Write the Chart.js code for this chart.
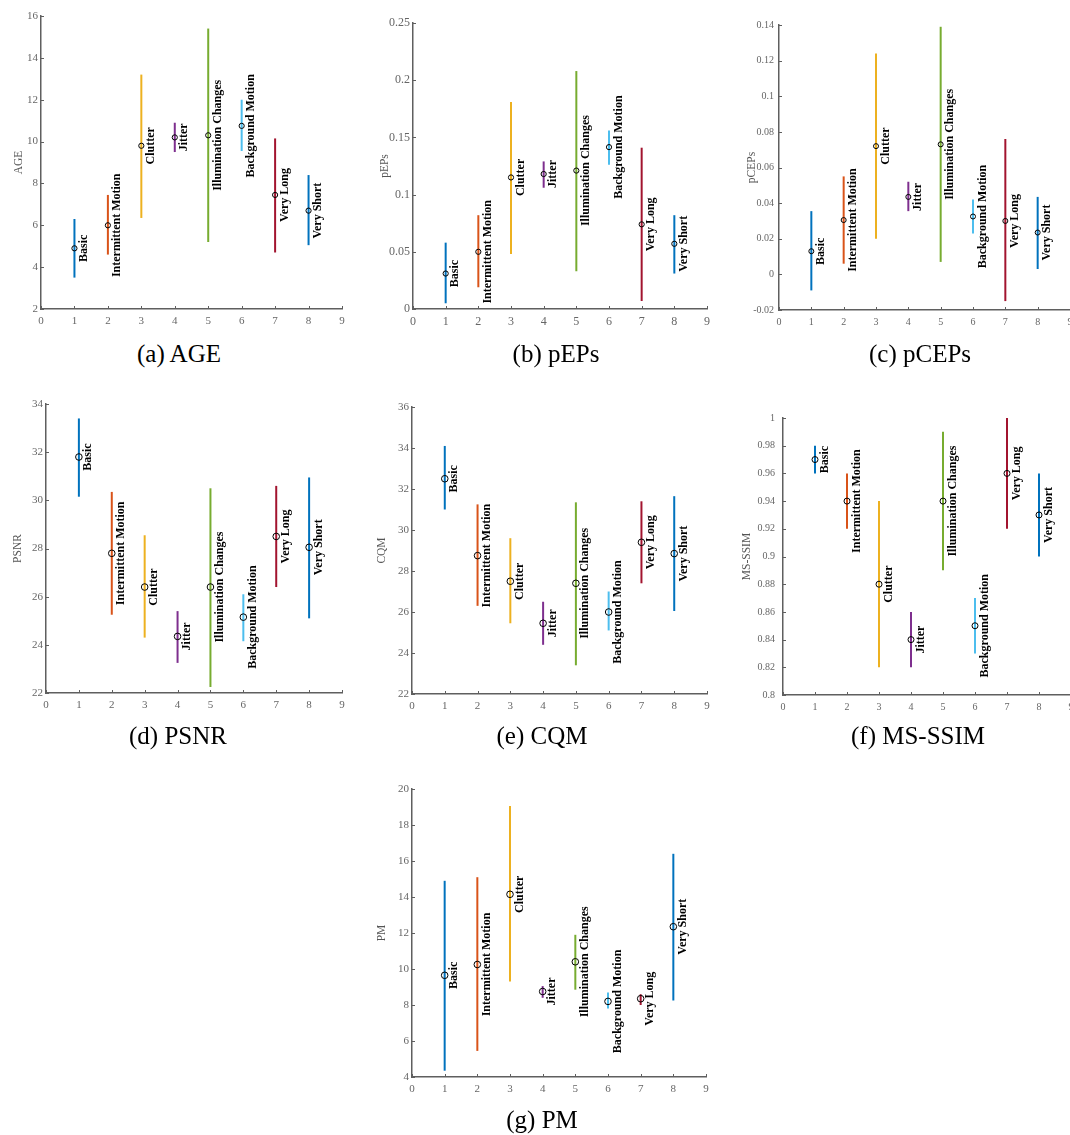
<!DOCTYPE html>
<html>
<head>
<meta charset="utf-8">
<script src="https://cdn.jsdelivr.net/npm/chart.js@4.4.0/dist/chart.umd.min.js"></script>
<style>
  html, body { margin: 0; padding: 0; background: #fff; overflow: hidden; }
  body { position: relative; width: 1070px; height: 1135px; }
  canvas.plot { position: absolute; }
  .caption {
    position: absolute;
    font-family: 'Liberation Serif', 'Times New Roman', serif;
    font-size: 25px;
    color: #000;
    white-space: nowrap;
    transform: translate(-50%, -50%);
  }
</style>
</head>
<body>
<script>
// challenge categories, one error bar per category
const categories = ['Basic', 'Intermittent Motion', 'Clutter', 'Jitter', 'Illumination Changes',
  'Background Motion', 'Very Long', 'Very Short'];
const barColors = ['#0072BD', '#D95319', '#EDB120', '#7E2F8E', '#77AC30', '#4DBEEE', '#A2142F', '#0072BD'];
const xTicks = [0, 1, 2, 3, 4, 5, 6, 7, 8, 9];

const ageMean = [4.9, 6.0, 9.8, 10.2, 10.3, 10.75, 7.45, 6.7];
const ageLow  = [3.5, 4.6, 6.35, 9.5, 5.2, 9.55, 4.7, 5.05];
const ageHigh = [6.3, 7.45, 13.2, 10.9, 15.4, 12.0, 10.15, 8.4];
const ageTicks = [2, 4, 6, 8, 10, 12, 14, 16];

const pepsMean = [0.031, 0.050, 0.115, 0.118, 0.121, 0.1415, 0.074, 0.057];
const pepsLow  = [0.005, 0.019, 0.048, 0.106, 0.033, 0.126, 0.007, 0.031];
const pepsHigh = [0.058, 0.082, 0.181, 0.129, 0.208, 0.156, 0.141, 0.082];
const pepsTicks = [0, 0.05, 0.1, 0.15, 0.2, 0.25];

const pcepsMean = [0.013, 0.0305, 0.072, 0.0435, 0.073, 0.0325, 0.030, 0.0235];
const pcepsLow  = [-0.009, 0.006, 0.020, 0.0355, 0.007, 0.023, -0.015, 0.003];
const pcepsHigh = [0.0355, 0.055, 0.124, 0.052, 0.139, 0.042, 0.076, 0.0435];
const pcepsTicks = [-0.02, 0, 0.02, 0.04, 0.06, 0.08, 0.1, 0.12, 0.14];

const psnrMean = [31.8, 27.8, 26.4, 24.35, 26.4, 25.15, 28.5, 28.05];
const psnrLow  = [30.15, 25.25, 24.3, 23.25, 22.25, 24.15, 26.4, 25.1];
const psnrHigh = [33.4, 30.35, 28.55, 25.4, 30.5, 26.1, 30.6, 30.95];
const psnrTicks = [22, 24, 26, 28, 30, 32, 34];

const cqmMean = [32.5, 28.75, 27.5, 25.45, 27.4, 26.0, 29.4, 28.85];
const cqmLow  = [31.0, 26.3, 25.45, 24.4, 23.4, 25.1, 27.4, 26.05];
const cqmHigh = [34.1, 31.25, 29.6, 26.5, 31.35, 27.0, 31.4, 31.65];
const cqmTicks = [22, 24, 26, 28, 30, 32, 34, 36];

const ssimMean = [0.97, 0.94, 0.88, 0.84, 0.94, 0.85, 0.96, 0.93];
const ssimLow  = [0.96, 0.92, 0.82, 0.82, 0.89, 0.83, 0.92, 0.90];
const ssimHigh = [0.98, 0.96, 0.94, 0.86, 0.99, 0.87, 1.0, 0.96];
const ssimTicks = [0.8, 0.82, 0.84, 0.86, 0.88, 0.9, 0.92, 0.94, 0.96, 0.98, 1];

const pmMean = [9.65, 10.25, 14.15, 8.75, 10.4, 8.2, 8.35, 12.35];
const pmLow  = [4.35, 5.45, 9.3, 8.4, 8.85, 7.8, 8.0, 8.25];
const pmHigh = [14.9, 15.1, 19.05, 9.05, 11.9, 8.7, 8.6, 16.4];
const pmTicks = [4, 6, 8, 10, 12, 14, 16, 18, 20];

const SERIF = "'Liberation Serif', 'Times New Roman', serif";
const AXIS_COLOR = '#5f5f5f';
const YW = 60, XH = 30, PT = 12, PR = 20;

// box = plot area [left, top, right, bottom] on the page
const panels = [
  { name: 'AGE', caption: '(a) AGE', mean: ageMean, low: ageLow, high: ageHigh, ticks: ageTicks,
    box: [41, 16, 342, 309], tickSize: 11, tickPad: 3, r: 2.6, titleGap: 22, cap: [179, 354] },
  { name: 'pEPs', caption: '(b) pEPs', mean: pepsMean, low: pepsLow, high: pepsHigh, ticks: pepsTicks,
    box: [413, 23, 707, 309], tickSize: 12, tickPad: 3, r: 2.6, titleGap: 28, cap: [556, 354] },
  { name: 'pCEPs', caption: '(c) pCEPs', mean: pcepsMean, low: pcepsLow, high: pcepsHigh, ticks: pcepsTicks,
    box: [779, 25, 1070, 310], tickSize: 10, tickPad: 5, r: 2.5, titleGap: 27, cap: [920, 354] },
  { name: 'PSNR', caption: '(d) PSNR', mean: psnrMean, low: psnrLow, high: psnrHigh, ticks: psnrTicks,
    box: [46, 404, 342, 693], tickSize: 11, tickPad: 3, r: 3.3, titleGap: 28, cap: [178, 736] },
  { name: 'CQM', caption: '(e) CQM', mean: cqmMean, low: cqmLow, high: cqmHigh, ticks: cqmTicks,
    box: [412, 407, 707, 694], tickSize: 11, tickPad: 3, r: 3.3, titleGap: 30, cap: [542, 736] },
  { name: 'MS-SSIM', caption: '(f) MS-SSIM', mean: ssimMean, low: ssimLow, high: ssimHigh, ticks: ssimTicks,
    box: [783, 416, 1071, 695], tickSize: 10, tickPad: 8, r: 3.0, titleGap: 36, cap: [918, 736] },
  { name: 'PM', caption: '(g) PM', mean: pmMean, low: pmLow, high: pmHigh, ticks: pmTicks,
    box: [412, 789, 706, 1077], tickSize: 11, tickPad: 3, r: 3.3, titleGap: 30, cap: [542, 1120] }
];

// inward tick marks and the rotated category names next to each mean
const decorPlugin = {
  id: 'decor',
  afterDatasetsDraw(chart, args, opts) {
    const { ctx, chartArea, scales: { x, y } } = chart;
    ctx.save();
    ctx.strokeStyle = AXIS_COLOR;
    ctx.lineWidth = 1;
    x.ticks.forEach(t => {
      const px = Math.round(x.getPixelForValue(t.value)) + 0.5;
      ctx.beginPath();
      ctx.moveTo(px, chartArea.bottom);
      ctx.lineTo(px, chartArea.bottom - 3);
      ctx.stroke();
    });
    y.ticks.forEach(t => {
      const py = Math.round(y.getPixelForValue(t.value)) + 0.5;
      ctx.beginPath();
      ctx.moveTo(chartArea.left, py);
      ctx.lineTo(chartArea.left + 3, py);
      ctx.stroke();
    });

    ctx.fillStyle = '#000';
    ctx.font = 'bold 12px ' + SERIF;
    ctx.textAlign = 'center';
    ctx.textBaseline = 'alphabetic';
    opts.names.forEach((label, i) => {
      const px = x.getPixelForValue(i + 1);
      const py = y.getPixelForValue(opts.mean[i]);
      ctx.save();
      ctx.translate(px + 12.5, py);
      ctx.rotate(-Math.PI / 2);
      ctx.fillText(label, 0, 0);
      ctx.restore();
    });
    ctx.restore();
  }
};

const fmt = v => String(+Number(v).toFixed(4));

panels.forEach(p => {
  const [L, T, R, B] = p.box;
  const canvas = document.createElement('canvas');
  canvas.className = 'plot';
  canvas.width = R - L + YW + PR;
  canvas.height = B - T + PT + XH;
  canvas.style.left = (L - YW) + 'px';
  canvas.style.top = (T - PT) + 'px';
  document.body.appendChild(canvas);

  const cap = document.createElement('div');
  cap.className = 'caption';
  cap.textContent = p.caption;
  cap.style.left = p.cap[0] + 'px';
  cap.style.top = p.cap[1] + 'px';
  document.body.appendChild(cap);

  const bars = categories.map((c, i) => ({
    label: c,
    data: [{ x: i + 1, y: p.low[i] }, { x: i + 1, y: p.high[i] }],
    showLine: true,
    borderColor: barColors[i],
    borderWidth: 2,
    pointRadius: 0,
    order: 2
  }));

  const means = {
    label: p.name,
    data: p.mean.map((v, i) => ({ x: i + 1, y: v })),
    showLine: false,
    pointStyle: 'circle',
    pointRadius: p.r,
    pointBorderColor: '#000',
    pointBackgroundColor: 'rgba(0,0,0,0)',
    pointBorderWidth: 1,
    order: 0
  };

  const titleSize = 11.5;
  const lineH = titleSize * 1.2;

  new Chart(canvas.getContext('2d'), {
    type: 'scatter',
    data: { datasets: [...bars, means] },
    options: {
      responsive: false,
      animation: false,
      devicePixelRatio: 1,
      events: [],
      layout: { autoPadding: false, padding: { left: 0, top: PT, right: PR, bottom: 0 } },
      plugins: {
        legend: { display: false },
        tooltip: { enabled: false },
        decor: { names: categories, mean: p.mean }
      },
      scales: {
        x: {
          type: 'linear',
          min: xTicks[0],
          max: xTicks[xTicks.length - 1],
          afterBuildTicks: s => { s.ticks = xTicks.map(v => ({ value: v })); },
          afterFit: s => { s.height = XH; },
          grid: { display: false, drawTicks: false },
          border: { display: true, color: AXIS_COLOR, width: 1.5 },
          ticks: {
            autoSkip: false, maxRotation: 0, padding: 6,
            color: '#666', font: { family: SERIF, size: p.tickSize },
            callback: fmt
          }
        },
        y: {
          type: 'linear',
          min: p.ticks[0],
          max: p.ticks[p.ticks.length - 1],
          afterBuildTicks: s => { s.ticks = p.ticks.map(v => ({ value: v })); },
          afterFit: s => { s.width = YW; },
          grid: { display: false, drawTicks: false },
          border: { display: true, color: AXIS_COLOR, width: 1.5 },
          ticks: {
            autoSkip: false, padding: p.tickPad,
            color: '#666', font: { family: SERIF, size: p.tickSize },
            callback: fmt
          },
          title: {
            display: true,
            text: p.name,
            color: '#555',
            font: { family: SERIF, size: titleSize, lineHeight: 1.2 },
            padding: { top: YW - p.titleGap - lineH / 2, bottom: 0 }
          }
        }
      }
    },
    plugins: [decorPlugin]
  });
});
</script>
</body>
</html>
